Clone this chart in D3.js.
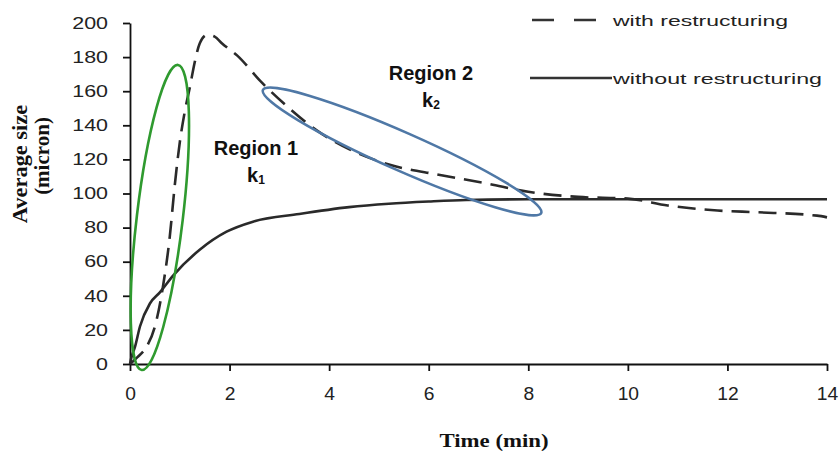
<!DOCTYPE html>
<html>
<head>
<meta charset="utf-8">
<script src="https://cdn.jsdelivr.net/npm/d3@7"></script>
<style>
  html, body { margin: 0; padding: 0; background: #fff; }
  svg { display: block; }
</style>
</head>
<body>
<svg id="canvas" width="840" height="452"></svg>
<script>
// data
let timeWith = [0, 0.15, 0.33, 0.5, 0.66, 0.8, 0.9, 1.0, 1.1, 1.2, 1.3, 1.4, 1.55, 1.7, 1.85, 2.15, 2.65, 3.2, 3.75, 4.4, 5.2, 6.2, 7.15, 8, 9, 10, 10.8, 11.8, 12.6, 13.8, 14]
let sizeWith = [0, 4, 10, 22, 45, 75, 105, 130, 148, 162, 177, 188, 193, 192, 188, 181, 165, 150, 137, 126, 117, 111, 106, 101, 98, 97, 93, 90, 89, 87, 86]

let timeWithout = [0, 0.03, 0.1, 0.2, 0.4, 0.6, 0.87, 1.4, 1.94, 2.47, 3.4, 4.4, 5.2, 6, 6.75, 8, 10, 12, 14]
let sizeWithout = [0, 4, 10, 22, 35.5, 42, 52, 67, 77.6, 83.5, 88, 92, 94, 95.3, 96.2, 96.6, 96.6, 96.6, 96.6]

let xTicks = [0, 2, 4, 6, 8, 10, 12, 14]
let yTicks = [0, 20, 40, 60, 80, 100, 120, 140, 160, 180, 200]

let seriesNames = ['with restructuring', 'without restructuring']

// ellipse ends in data units [time, size]
let region1Ends = [[0.235, -3.5], [0.964, 175.4]]
let region2Ends = [[2.67, 160.7], [8.26, 88.6]]
let regionLabels = ['Region 1', 'Region 2']

let canvas = d3.select('#canvas')

let xScale = d3.scaleLinear().domain([0, 14]).range([130, 827])
let yScale = d3.scaleLinear().domain([0, 200]).range([364, 23])

// stretch text a little, the original lettering is wide
let stretch = (sel, k) => {
    sel.each(function () {
        let len = this.getComputedTextLength()
        d3.select(this).attr('textLength', len * k).attr('lengthAdjust', 'spacingAndGlyphs')
    })
}

// axes
let yAxis = canvas.append('g')
    .attr('transform', 'translate(130,0)')
    .call(d3.axisLeft(yScale).tickValues(yTicks).tickSize(7).tickSizeOuter(0).tickPadding(15))
let xAxis = canvas.append('g')
    .attr('transform', 'translate(0,364)')
    .call(d3.axisBottom(xScale).tickValues(xTicks).tickSize(7).tickSizeOuter(0).tickPadding(17))

canvas.selectAll('.domain, .tick line').attr('stroke', '#111').attr('stroke-width', 1.8)
yAxis.selectAll('text')
    .attr('font-family', 'Liberation Sans, Arial, sans-serif')
    .attr('font-size', 16.5)
    .attr('fill', '#222')
    .call(stretch, 1.3)
xAxis.selectAll('text')
    .attr('font-family', 'Liberation Sans, Arial, sans-serif')
    .attr('font-size', 17.5)
    .attr('fill', '#222')
    .call(stretch, 1.1)

// axis titles
canvas.append('text')
    .attr('transform', 'translate(494,447)')
    .attr('text-anchor', 'middle')
    .attr('font-family', 'Liberation Serif, Times New Roman, serif')
    .attr('font-weight', 'bold')
    .attr('font-size', 19)
    .attr('fill', '#111')
    .text('Time (min)')
    .call(stretch, 1.2)

canvas.append('text')
    .attr('transform', 'translate(20,164) rotate(-90)')
    .attr('text-anchor', 'middle')
    .attr('dominant-baseline', 'central')
    .attr('font-family', 'Liberation Serif, Times New Roman, serif')
    .attr('font-weight', 'bold')
    .attr('font-size', 20)
    .attr('fill', '#111')
    .text('Average size')
    .call(stretch, 1.12)
canvas.append('text')
    .attr('transform', 'translate(42,156) rotate(-90)')
    .attr('text-anchor', 'middle')
    .attr('dominant-baseline', 'central')
    .attr('font-family', 'Liberation Serif, Times New Roman, serif')
    .attr('font-weight', 'bold')
    .attr('font-size', 20)
    .attr('fill', '#111')
    .text('(micron)')
    .call(stretch, 1.05)

// curves
let lineWith = d3.line()
    .x((d, i) => xScale(timeWith[i]))
    .y((d) => yScale(d))
    .curve(d3.curveMonotoneX)
let lineWithout = d3.line()
    .x((d, i) => xScale(timeWithout[i]))
    .y((d) => yScale(d))
    .curve(d3.curveMonotoneX)

canvas.append('path')
    .attr('d', lineWithout(sizeWithout))
    .attr('fill', 'none')
    .attr('stroke', '#2a2a2a')
    .attr('stroke-width', 2.6)
canvas.append('path')
    .attr('d', lineWith(sizeWith))
    .attr('fill', 'none')
    .attr('stroke', '#2a2a2a')
    .attr('stroke-width', 2.6)
    .attr('stroke-dasharray', '18,9')

// ellipses round the two regions
let drawEllipse = (ends, rMinor, color) => {
    let p0 = [xScale(ends[0][0]), yScale(ends[0][1])]
    let p1 = [xScale(ends[1][0]), yScale(ends[1][1])]
    let cx = (p0[0] + p1[0]) / 2
    let cy = (p0[1] + p1[1]) / 2
    let half = Math.hypot(p1[0] - p0[0], p1[1] - p0[1]) / 2
    let angle = Math.atan2(p1[1] - p0[1], p1[0] - p0[0]) * 180 / Math.PI
    canvas.append('ellipse')
        .attr('transform', `translate(${cx},${cy}) rotate(${angle})`)
        .attr('rx', half)
        .attr('ry', rMinor)
        .attr('fill', 'none')
        .attr('stroke', color)
        .attr('stroke-width', 2.6)
}
drawEllipse(region1Ends, 23, '#2f9a2f')
drawEllipse(region2Ends, 19, '#4f78a6')

// region labels
let regionText = (label, sub, cx, baseline) => {
    canvas.append('text')
        .attr('x', cx).attr('y', baseline)
        .attr('text-anchor', 'middle')
        .attr('font-family', 'Liberation Sans, Arial, sans-serif')
        .attr('font-weight', 'bold')
        .attr('font-size', 20)
        .attr('fill', '#111')
        .text(label)
    let k = canvas.append('text')
        .attr('x', cx).attr('y', baseline + 27)
        .attr('text-anchor', 'middle')
        .attr('font-family', 'Liberation Sans, Arial, sans-serif')
        .attr('font-weight', 'bold')
        .attr('font-size', 20)
        .attr('fill', '#111')
    k.append('tspan').text('k')
    k.append('tspan').attr('font-size', 12).attr('dy', 2).text(sub)
}
regionText(regionLabels[0], '1', 256, 155)
regionText(regionLabels[1], '2', 431, 80)

// legend
canvas.append('line')
    .attr('x1', 532).attr('x2', 600).attr('y1', 20).attr('y2', 20)
    .attr('stroke', '#333').attr('stroke-width', 2.6)
    .attr('stroke-dasharray', '22,20')
canvas.append('line')
    .attr('x1', 530).attr('x2', 612).attr('y1', 78).attr('y2', 78)
    .attr('stroke', '#333').attr('stroke-width', 2.6)

canvas.selectAll('.legend-text')
    .data(seriesNames)
    .enter()
    .append('text')
    .attr('class', 'legend-text')
    .attr('x', 613)
    .attr('y', (d, i) => i === 0 ? 20 : 78)
    .attr('dominant-baseline', 'central')
    .attr('font-family', 'Liberation Sans, Arial, sans-serif')
    .attr('font-size', 15)
    .attr('fill', '#222')
    .attr('textLength', (d, i) => i === 0 ? 175 : 209)
    .attr('lengthAdjust', 'spacingAndGlyphs')
    .text((d) => d)
</script>
</body>
</html>
